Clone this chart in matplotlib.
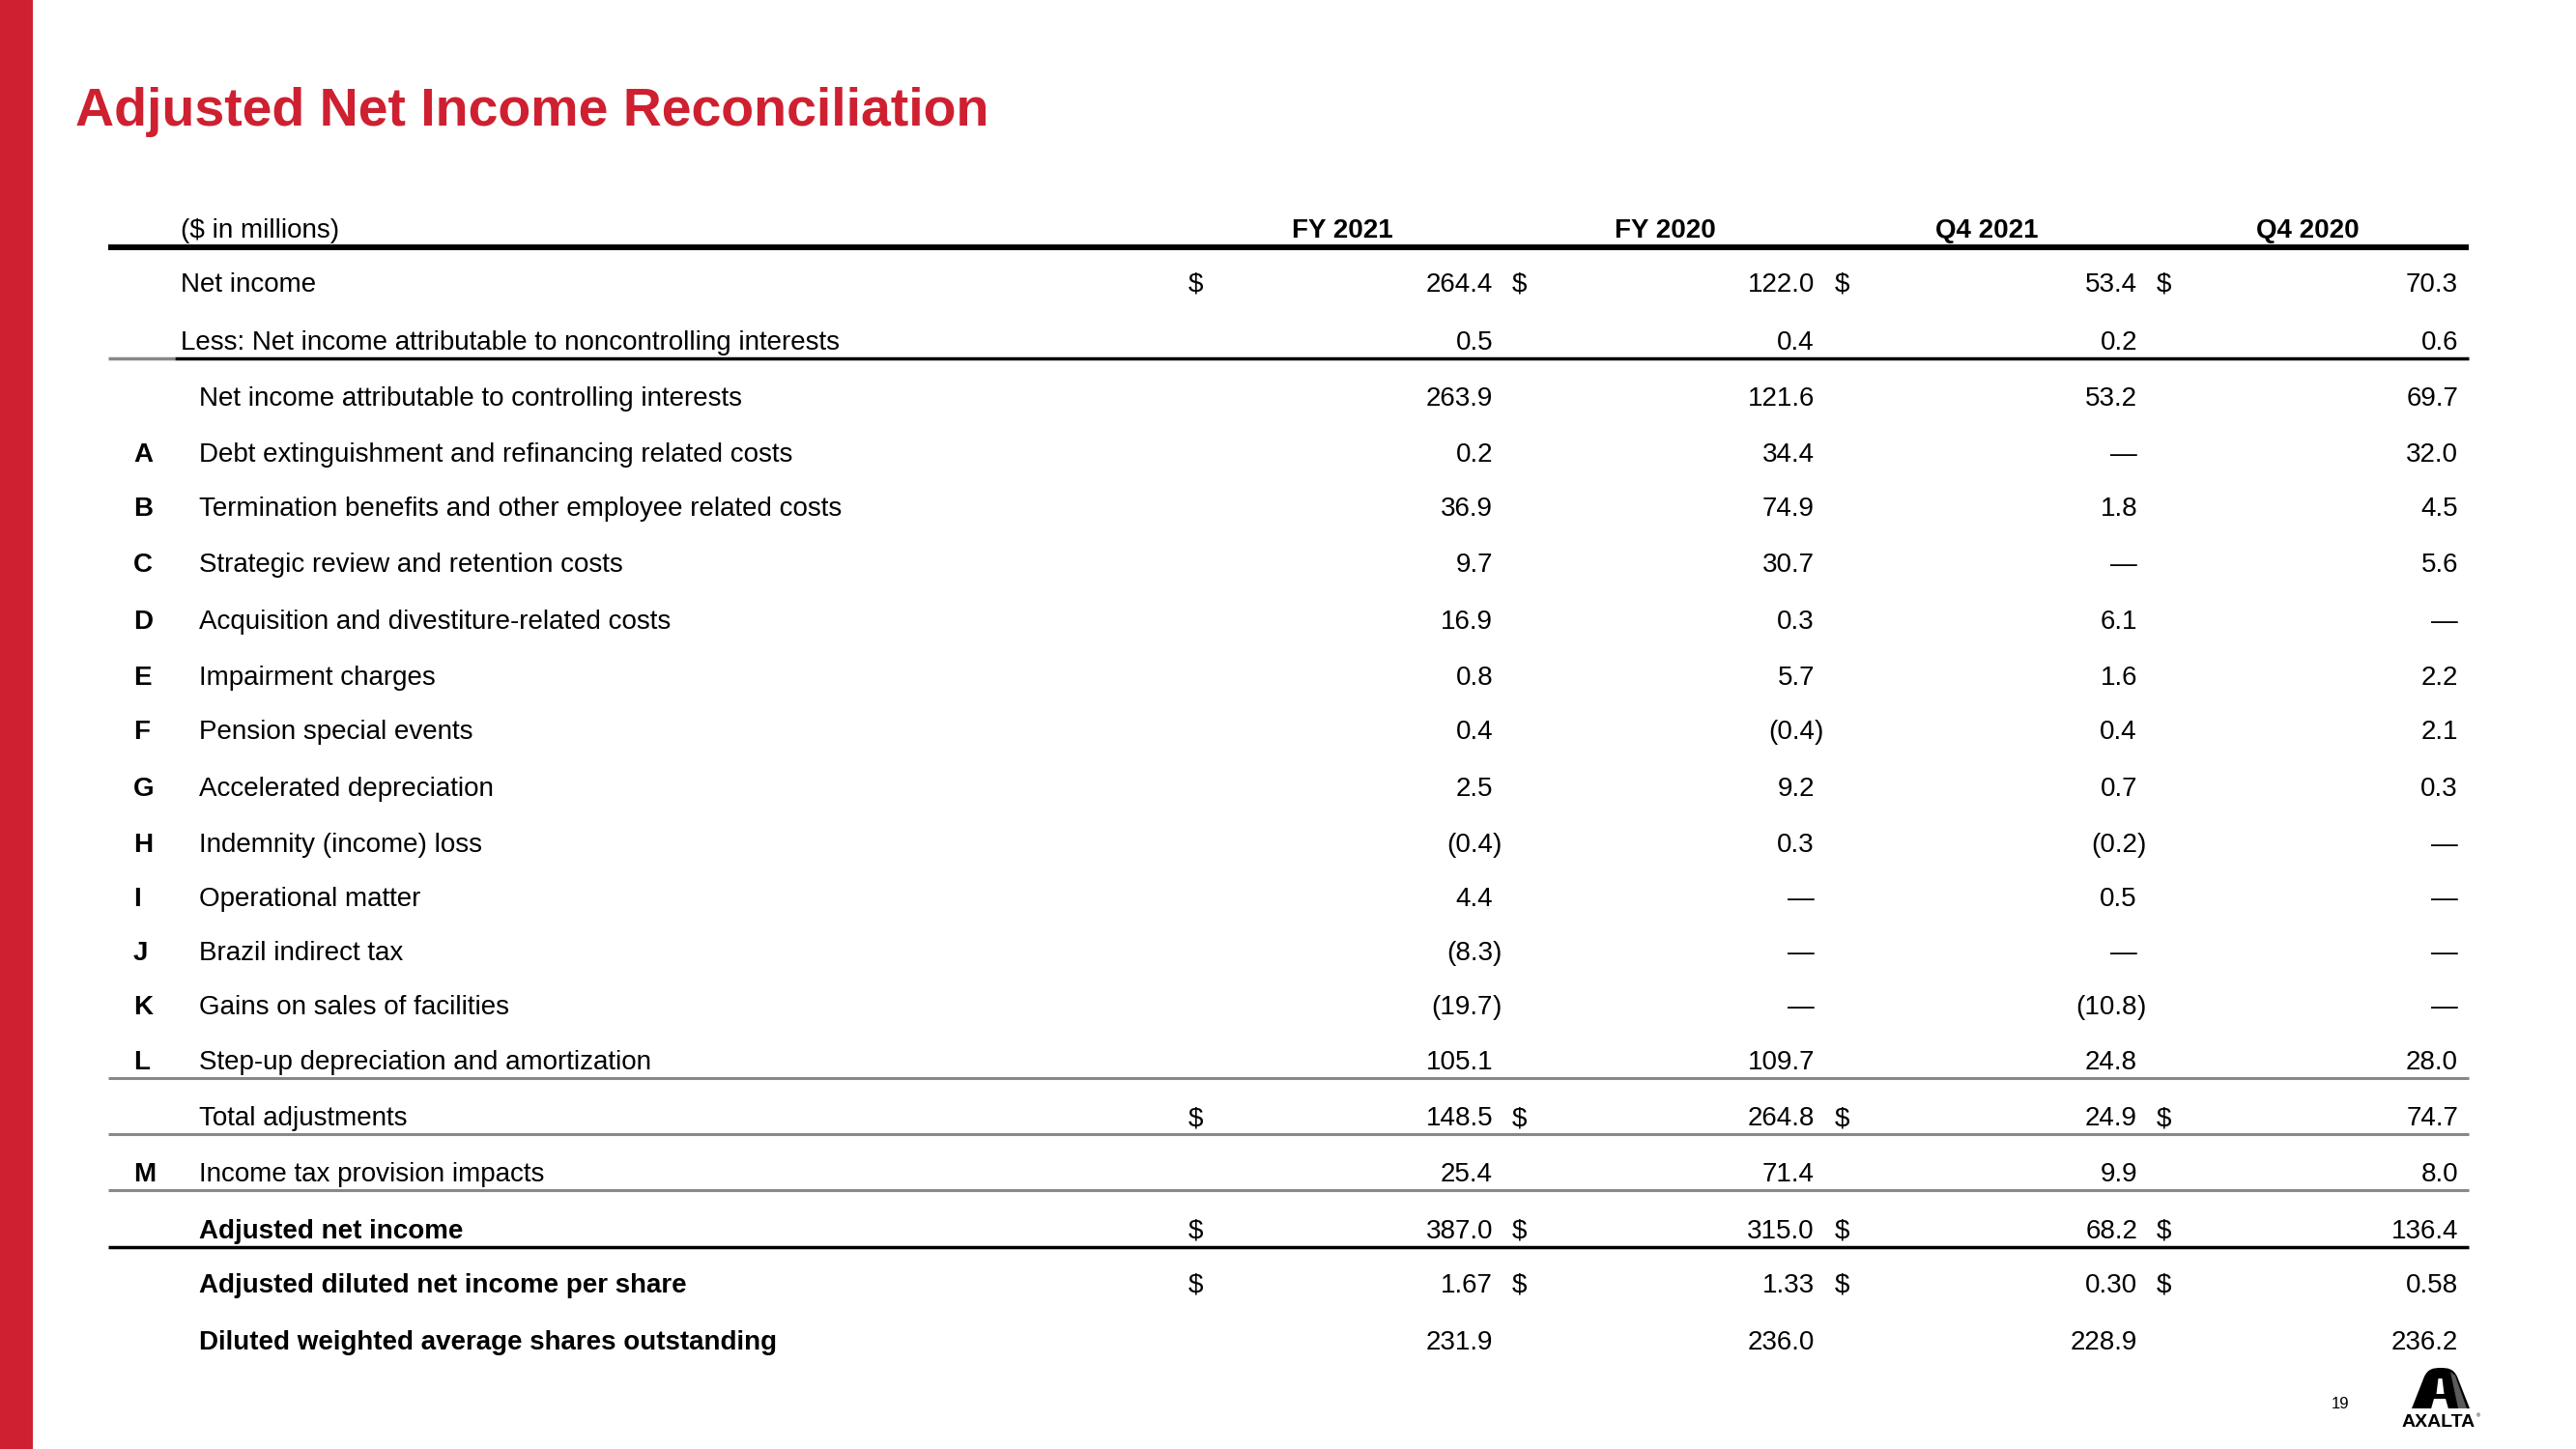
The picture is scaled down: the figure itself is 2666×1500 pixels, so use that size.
import matplotlib.pyplot as plt
from matplotlib.patches import Rectangle, PathPatch, Polygon
from matplotlib.path import Path

plt.rcParams['font.family'] = ['Liberation Sans', 'DejaVu Sans']

# slide text + table data
title = 'Adjusted Net Income Reconciliation'
unit_label = '($ in millions)'
columns = ['FY 2021', 'FY 2020', 'Q4 2021', 'Q4 2020']

letters = ['', '', '', 'A', 'B', 'C', 'D', 'E', 'F', 'G', 'H', 'I', 'J', 'K', 'L', '', 'M', '', '', '']
labels = [
    'Net income',
    'Less: Net income attributable to noncontrolling interests',
    'Net income attributable to controlling interests',
    'Debt extinguishment and refinancing related costs',
    'Termination benefits and other employee related costs',
    'Strategic review and retention costs',
    'Acquisition and divestiture-related costs',
    'Impairment charges',
    'Pension special events',
    'Accelerated depreciation',
    'Indemnity (income) loss',
    'Operational matter',
    'Brazil indirect tax',
    'Gains on sales of facilities',
    'Step-up depreciation and amortization',
    'Total adjustments',
    'Income tax provision impacts',
    'Adjusted net income',
    'Adjusted diluted net income per share',
    'Diluted weighted average shares outstanding',
]
# None = em dash in the slide
fy2021 = [264.4, 0.5, 263.9, 0.2, 36.9, 9.7, 16.9, 0.8, 0.4, 2.5, -0.4, 4.4, -8.3, -19.7, 105.1, 148.5, 25.4, 387.0, 1.67, 231.9]
fy2020 = [122.0, 0.4, 121.6, 34.4, 74.9, 30.7, 0.3, 5.7, -0.4, 9.2, 0.3, None, None, None, 109.7, 264.8, 71.4, 315.0, 1.33, 236.0]
q4_2021 = [53.4, 0.2, 53.2, None, 1.8, None, 6.1, 1.6, 0.4, 0.7, -0.2, 0.5, None, -10.8, 24.8, 24.9, 9.9, 68.2, 0.30, 228.9]
q4_2020 = [70.3, 0.6, 69.7, 32.0, 4.5, 5.6, None, 2.2, 2.1, 0.3, None, None, None, None, 28.0, 74.7, 8.0, 136.4, 0.58, 236.2]

dollar_rows = [0, 15, 17, 18]
bold_rows = [17, 18, 19]
flush_rows = [0, 1]
two_dec_rows = [18]
page_number = '19'

RED = '#CE2030'
GRAY = '#888888'

fig = plt.figure(figsize=(26.66, 15), dpi=100)
ax = fig.add_axes([0, 0, 1, 1])
ax.set_xlim(0, 2666)
ax.set_ylim(1500, 0)
ax.axis('off')

# red stripe on the left + title
ax.add_patch(Rectangle((0, 0), 34, 1500, color=RED, lw=0))
ax.text(78, 130, title, color=RED, fontsize=40, fontweight='bold', va='baseline', ha='left')

# layout (pixel positions on the slide)
x_left, x_right = 112, 2555
x_letter, x_flush, x_indent = 138, 187, 206
col_right = [1545, 1878, 2212, 2544]
dollar_x = [1230, 1565, 1899, 2232]
header_cx = [1389, 1723, 2056, 2388]
header_base = 246
row_base = [302, 362, 420, 478, 534, 592, 651, 709, 765, 824,
            882, 938, 994, 1050, 1107, 1165, 1223, 1282, 1338, 1397]
fs = 20


def fmt(v, dec):
    if v is None:
        return '\u2014', False
    s = f'{abs(v):.{dec}f}'
    if v < 0:
        return '(' + s, True
    return s, False


# header
ax.text(x_flush, header_base, unit_label, fontsize=fs, va='baseline', ha='left')
for cx, name in zip(header_cx, columns):
    ax.text(cx, header_base, name, fontsize=fs, fontweight='bold', va='baseline', ha='center')
ax.plot([x_left, x_right], [header_base + 10, header_base + 10], color='black', lw=4.3, solid_capstyle='butt')

series = [fy2021, fy2020, q4_2021, q4_2020]
for i, label in enumerate(labels):
    yb = row_base[i]
    weight = 'bold' if i in bold_rows else 'normal'
    if letters[i]:
        ax.text(x_letter, yb, letters[i], fontsize=fs, fontweight='bold', va='baseline', ha='left')
    x_lab = x_flush if i in flush_rows else x_indent
    ax.text(x_lab, yb, label, fontsize=fs, fontweight=weight, va='baseline', ha='left')
    dec = 2 if i in two_dec_rows else 1
    for j, vals in enumerate(series):
        s, neg = fmt(vals[i], dec)
        ax.text(col_right[j], yb, s, fontsize=fs, va='baseline', ha='right')
        if neg:
            # closing paren hangs past the column edge
            ax.text(col_right[j], yb, ')', fontsize=fs, va='baseline', ha='left')
        if i in dollar_rows:
            ax.text(dollar_x[j], yb, '$', fontsize=fs, va='baseline', ha='left')


# horizontal rules under rows
def rule_y(i):
    return row_base[i] + 9


ax.plot([x_left, 181], [rule_y(1)] * 2, color=GRAY, lw=2.5, solid_capstyle='butt')
ax.plot([181, x_right], [rule_y(1)] * 2, color='black', lw=2.5, solid_capstyle='butt')
for i in [14, 15, 16]:
    ax.plot([x_left, x_right], [rule_y(i)] * 2, color=GRAY, lw=2.2, solid_capstyle='butt')
ax.plot([x_left, x_right], [rule_y(17)] * 2, color='black', lw=2.5, solid_capstyle='butt')

# footer: page number + logo
ax.text(2431, 1458, page_number, fontsize=12, va='baseline', ha='right')
arch = Path([(2496, 1458), (2509, 1425), (2513, 1417), (2518, 1416), (2526, 1416),
             (2534, 1416), (2539, 1417), (2543, 1425), (2556, 1458), (2496, 1458)],
            [Path.MOVETO, Path.LINETO, Path.CURVE4, Path.CURVE4, Path.CURVE4,
             Path.CURVE4, Path.CURVE4, Path.CURVE4, Path.LINETO, Path.CLOSEPOLY])
ax.add_patch(PathPatch(arch, facecolor='black', edgecolor='none'))
ax.add_patch(Polygon([(2536, 1420), (2541, 1424), (2553, 1458), (2544, 1458)], color='#5a5a5a', lw=0))
ax.add_patch(Polygon([(2523.5, 1427), (2527.5, 1427), (2529.5, 1443), (2521.5, 1443)], color='white', lw=0))
ax.add_patch(Polygon([(2519, 1448), (2531, 1448), (2534, 1458.5), (2516, 1458.5)], color='white', lw=0))
ax.text(2524, 1477, 'AXALTA', fontsize=14, fontweight='bold', va='baseline', ha='center')
ax.text(2563, 1467, '\u00ae', fontsize=4, va='baseline', ha='left')

fig.savefig('out.png', dpi=100)
